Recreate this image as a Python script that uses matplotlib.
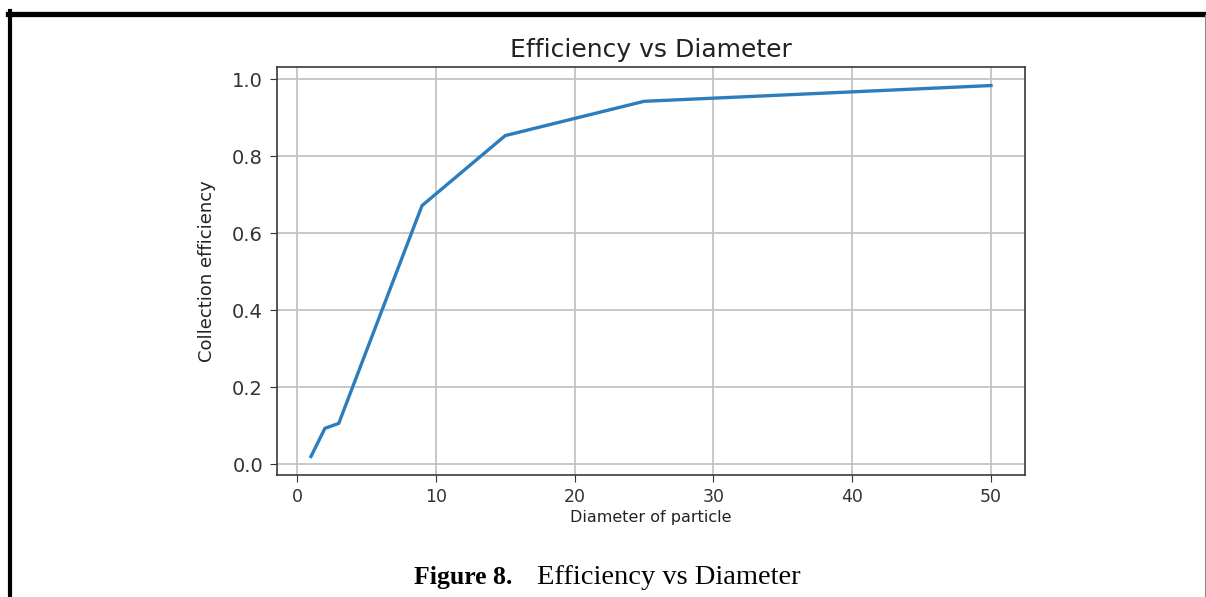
import matplotlib
matplotlib.use("Agg")
import matplotlib.pyplot as plt
from matplotlib.lines import Line2D

# particle diameter vs collection efficiency
diameter = [1, 2, 3, 5, 9, 15, 25, 50]
efficiency = [0.02, 0.093, 0.106, 0.295, 0.672, 0.854, 0.943, 0.984]

W, H = 1206, 597
fig = plt.figure(figsize=(W / 100, H / 100), dpi=100)
fig.patch.set_facecolor("white")

# axes box placed in pixels
ax = fig.add_axes([277 / W, 1 - 475 / H, (1025 - 277) / W, (475 - 67) / H])
ax.plot(diameter, efficiency, color="#2c7dbd", lw=2.4)

ax.set_title("Efficiency vs Diameter", fontsize=18, pad=7, color="#222222")
ax.set_xlabel("Diameter of particle", fontsize=11.5, color="#222222", labelpad=3)
ax.set_ylabel("Collection efficiency", fontsize=13, color="#222222", labelpad=12)

ax.set_xticks([0, 10, 20, 30, 40, 50])
ax.set_yticks([0.0, 0.2, 0.4, 0.6, 0.8, 1.0])
ax.tick_params(axis="y", labelsize=14, colors="#333333", length=5, pad=5)
ax.tick_params(axis="x", labelsize=12.5, colors="#333333", length=5, pad=4)
ax.grid(True, color="#c4c4c4", lw=1.3)
ax.set_axisbelow(True)
for sp in ax.spines.values():
    sp.set_color("#3a3a3a")
    sp.set_linewidth(1.2)

# page frame around the figure
fig.add_artist(Line2D([8 / W, 1], [1 - 13.5 / H] * 2, color="black", lw=3.8,
                      transform=fig.transFigure))
fig.add_artist(Line2D([10 / W] * 2, [0, 1 - 11 / H], color="black", lw=3.0,
                      transform=fig.transFigure))
fig.add_artist(Line2D([1205 / W] * 2, [0, 1 - 15 / H], color="#888888", lw=0.8,
                      transform=fig.transFigure))

# caption
fig.text(414 / W, 1 - 584 / H, "Figure 8.", fontsize=18.5, fontweight="bold",
         family="Liberation Serif", va="baseline", ha="left")
fig.text(537 / W, 1 - 584 / H, "Efficiency vs Diameter", fontsize=20.5,
         family="Liberation Serif", va="baseline", ha="left")

fig.savefig("out.png", dpi=100)
